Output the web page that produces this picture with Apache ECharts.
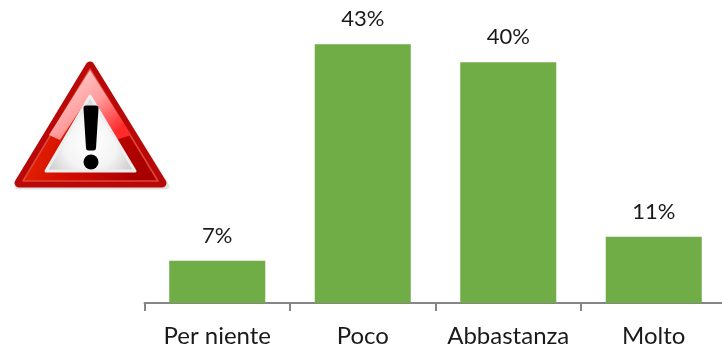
<!DOCTYPE html>
<html><head><meta charset="utf-8">
<style>html,body{margin:0;padding:0;background:#fff}#c{width:722px;height:346px}</style>
<script src="https://cdn.jsdelivr.net/npm/echarts@6/dist/echarts.min.js"></script>
</head><body><div id="c"></div>
<script>
const categories = ["Per niente", "Poco", "Abbastanza", "Molto"];
const values = [7, 43, 40, 11];
const chart = echarts.init(document.getElementById('c'), null, {renderer:'canvas'});
const F = 'Lato';
const lg = (x,y,x2,y2,stops)=>new echarts.graphic.LinearGradient(x,y,x2,y2,stops.map(c=>({offset:c[0],color:c[1]})));
const poly = (points,fill,extra)=>({type:'polygon',shape:{points},style:Object.assign({fill},extra||{})});
chart.setOption({
  animation:false,
  grid:{left:144.5,width:582,top:2,bottom:43,outerBoundsMode:'none',containLabel:false},
  xAxis:{type:'category',data:categories,
    axisLine:{lineStyle:{color:'#868686',width:2}},
    axisTick:{show:true,alignWithLabel:false,length:8,lineStyle:{color:'#868686',width:2}},
    axisLabel:{color:'#1a1a1a',fontFamily:F,fontSize:24,margin:21,interval:0}},
  yAxis:{type:'value',min:0,max:50,show:false,splitLine:{show:false}},
  series:[{type:'bar',data:values,barWidth:'66%',itemStyle:{color:'#70AD47'},
    label:{show:true,position:'top',distance:14,formatter:p=>p.value+'%',color:'#1a1a1a',fontFamily:F,fontSize:22}}],
  graphic:[{type:'group',silent:true,children:[
    poly([[91,66],[18,186],[166,186]],'#000',{stroke:'#000',lineWidth:7,lineJoin:'round',opacity:0.10,shadowBlur:5,shadowColor:'rgba(0,0,0,0.3)'}),
    poly([[90,66],[19,183],[162,183]],lg(0,0,1,0,[[0,'#cc1000'],[1,'#a00000']]),{stroke:'#b80808',lineWidth:9,lineJoin:'round'}),
    poly([[90,69],[23,181],[158,181]],lg(0,0,1,0.4,[[0,'#f03000'],[0.55,'#cf0c00'],[1,'#a80000']]),{stroke:'#e2453a',lineWidth:1.5,lineJoin:'round'}),
    poly([[90,70],[49,135],[60,140],[90,95],[116,140],[131,135]],lg(0,0,0.7,1,[[0,'#ffe0e0'],[0.6,'#ff9c9c'],[1,'#ff2a2a']])),
    poly([[90,96],[46,171],[135,171]],new echarts.graphic.RadialGradient(0.5,0.62,0.62,[{offset:0,color:'#ffffff'},{offset:0.55,color:'#f4f4f4'},{offset:1,color:'#cccccc'}]),{stroke:'#eeeeee',lineWidth:3,lineJoin:'round'}),
    poly([[86,108],[96,108],[93.5,148],[88.5,148]],'#000',{stroke:'#000',lineWidth:5,lineJoin:'round'}),
    {type:'circle',shape:{cx:91,cy:162,r:7.5},style:{fill:'#000'}}
  ]}]
});
</script></body></html>
